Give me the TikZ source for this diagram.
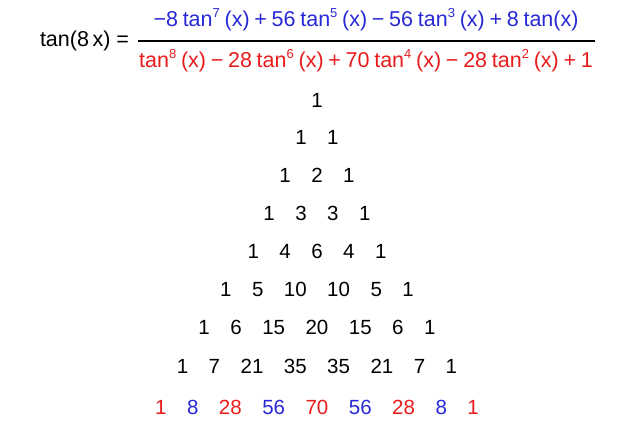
\documentclass[tikz,border=0pt]{standalone}
\usepackage{fontspec}
\setmainfont{Liberation Sans}
\definecolor{nblue}{RGB}{40,40,215}
\definecolor{nred}{RGB}{232,28,28}
\newcommand{\sq}[1]{\raisebox{0.44em}{\fontsize{13}{13}\selectfont #1}}
\newcommand{\gp}{\hspace{20.5pt}}
\newcommand{\fs}{\hspace{0.22em}}
\begin{document}
\begin{tikzpicture}[x=1pt,y=1pt,
  every node/.style={inner sep=0pt,outer sep=0pt,font=\fontsize{20.5}{24}\selectfont},
  formula/.style={font=\fontsize{21.5}{25}\selectfont},
  row/.style={anchor=center}]
\useasboundingbox (0,0) rectangle (624,447);
% formula
\node[formula,anchor=base west] (lhs) at (40,447-47) {tan(8\,x) =};
\node[formula,anchor=base, text=nblue] (num) at (366,447-27) {−8\fs tan\sq{7}\fs(x)\fs+\fs56\fs tan\sq{5}\fs(x)\fs−\fs56\fs tan\sq{3}\fs(x)\fs+\fs8\fs tan(x)};
\node[formula,anchor=base, text=nred] (den) at (366,447-68) {tan\sq{8}\fs(x)\fs−\fs28\fs tan\sq{6}\fs(x)\fs+\fs70\fs tan\sq{4}\fs(x)\fs−\fs28\fs tan\sq{2}\fs(x)\fs+\fs1};
\coordinate (b1) at (138,447-41);
\coordinate (b2) at (595,447-41);
\draw[line width=1.3pt] (b1) -- (b2);
% triangle
\node[row] (r1) at (317,447-100) {1};
\node[row] (r2) at (317,447-137) {1\gp 1};
\node[row] (r3) at (317,447-175) {1\gp 2\gp 1};
\node[row] (r4) at (317,447-213) {1\gp 3\gp 3\gp 1};
\node[row] (r5) at (317,447-251) {1\gp 4\gp 6\gp 4\gp 1};
\node[row] (r6) at (317,447-289) {1\gp 5\gp 10\gp 10\gp 5\gp 1};
\node[row] (r7) at (317,447-327) {1\gp 6\gp 15\gp 20\gp 15\gp 6\gp 1};
\node[row] (r8) at (317,447-366) {1\gp 7\gp 21\gp 35\gp 35\gp 21\gp 7\gp 1};
\node[row] (r9) at (317,447-407) {\textcolor{nred}{1}\gp \textcolor{nblue}{8}\gp \textcolor{nred}{28}\gp \textcolor{nblue}{56}\gp \textcolor{nred}{70}\gp \textcolor{nblue}{56}\gp \textcolor{nred}{28}\gp \textcolor{nblue}{8}\gp \textcolor{nred}{1}};
\end{tikzpicture}
\end{document}
